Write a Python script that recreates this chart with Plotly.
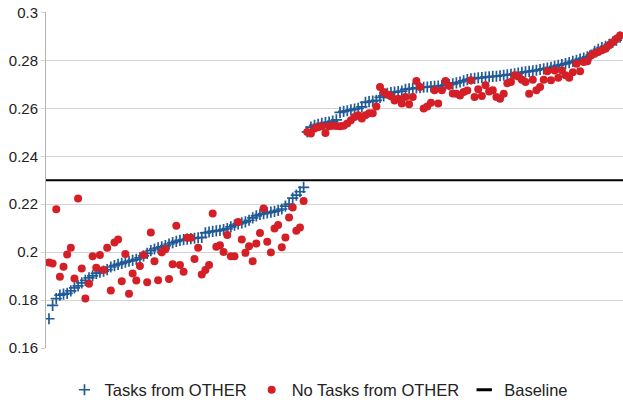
import plotly.graph_objects as go

# Sorted scores with OTHER tasks (first group, then second group)
tasks_other_g1 = [
    0.1722, 0.1778, 0.1806, 0.1821, 0.1825, 0.1828, 0.1838, 0.1851, 0.1859, 0.1872,
    0.1882, 0.1893, 0.1901, 0.1911, 0.1916, 0.1921, 0.1927, 0.1938, 0.1944, 0.1949,
    0.1953, 0.1958, 0.1962, 0.1966, 0.1970, 0.1976, 0.1984, 0.1995, 0.2006, 0.2013,
    0.2018, 0.2022, 0.2027, 0.2034, 0.2040, 0.2045, 0.2049, 0.2052, 0.2054, 0.2056,
    0.2058, 0.2060, 0.2062, 0.2080, 0.2084, 0.2087, 0.2089, 0.2091, 0.2094, 0.2098,
    0.2105, 0.2113, 0.2118, 0.2122, 0.2126, 0.2133, 0.2143, 0.2151, 0.2157, 0.2161,
    0.2164, 0.2167, 0.2170, 0.2174, 0.2180, 0.2192, 0.2200, 0.2225, 0.2238, 0.2252,
    0.2270,
]
tasks_other_g2 = [
    0.2502, 0.2522, 0.2529, 0.2533, 0.2537, 0.2540, 0.2543, 0.2547, 0.2552, 0.2583,
    0.2587, 0.2590, 0.2594, 0.2597, 0.2600, 0.2606, 0.2625, 0.2628, 0.2630, 0.2633,
    0.2646, 0.2652, 0.2663, 0.2666, 0.2668, 0.2670, 0.2672, 0.2679, 0.2681, 0.2683,
    0.2685, 0.2686, 0.2688, 0.2689, 0.2691, 0.2692, 0.2693, 0.2695, 0.2697, 0.2699,
    0.2702, 0.2706, 0.2710, 0.2715, 0.2720, 0.2723, 0.2725, 0.2727, 0.2728, 0.2730,
    0.2731, 0.2733, 0.2734, 0.2736, 0.2738, 0.2740, 0.2742, 0.2744, 0.2747, 0.2750,
    0.2752, 0.2754, 0.2756, 0.2759, 0.2762, 0.2765, 0.2768, 0.2771, 0.2775, 0.2779,
    0.2783, 0.2787, 0.2791, 0.2796, 0.2800, 0.2805, 0.2810, 0.2815, 0.2822, 0.2838,
    0.2846, 0.2853, 0.2859, 0.2867, 0.2876, 0.2885, 0.2897,
]

# Scores without OTHER tasks, same order
no_tasks_other_g1 = [
    0.1957, 0.1953, 0.2179, 0.1897, 0.1939, 0.1990, 0.2018, 0.1890, 0.2224, 0.1932,
    0.1807, 0.1868, 0.1983, 0.1935, 0.1988, 0.1925, 0.2018, 0.1840, 0.2040, 0.2053,
    0.1879, 0.1992, 0.1826, 0.1911, 0.1882, 0.1942, 0.1988, 0.1874, 0.2082, 0.1962,
    0.1883, 0.1999, 0.2012, 0.1888, 0.1949, 0.2110, 0.1946, 0.1918, 0.2060, 0.2060,
    0.1971, 0.2018, 0.1907, 0.1925, 0.1946, 0.2161, 0.2022, 0.2029, 0.2001, 0.2071,
    0.1983, 0.1983, 0.2126, 0.2053, 0.1997, 0.2025, 0.1962, 0.2036, 0.2080, 0.2182,
    0.2043, 0.1999, 0.2099, 0.2113, 0.2020, 0.2061, 0.2145, 0.2186, 0.2089, 0.2103,
    0.2213,
]
no_tasks_other_g2 = [
    0.2501, 0.2495, 0.2516, 0.2521, 0.2525, 0.2497, 0.2525, 0.2527, 0.2526, 0.2525,
    0.2527, 0.2537, 0.2550, 0.2564, 0.2571, 0.2558, 0.2571, 0.2580, 0.2580, 0.2608,
    0.2689, 0.2668, 0.2658, 0.2650, 0.2633, 0.2640, 0.2620, 0.2647, 0.2617, 0.2647,
    0.2714, 0.2689, 0.2599, 0.2608, 0.2623, 0.2675, 0.2620, 0.2675, 0.2714, 0.2694,
    0.2662, 0.2661, 0.2654, 0.2668, 0.2674, 0.2717, 0.2647, 0.2680, 0.2652, 0.2696,
    0.2670, 0.2675, 0.2647, 0.2640, 0.2661, 0.2705, 0.2710, 0.2738, 0.2733, 0.2719,
    0.2710, 0.2661, 0.2719, 0.2675, 0.2689, 0.2719, 0.2755, 0.2717, 0.2758, 0.2728,
    0.2758, 0.2738, 0.2728, 0.2751, 0.2786, 0.2755, 0.2793, 0.2797, 0.2821, 0.2828,
    0.2835, 0.2842, 0.2849, 0.2863, 0.2876, 0.2890, 0.2904,
]

baseline = 0.23

y_tick_values = [0.16, 0.18, 0.20, 0.22, 0.24, 0.26, 0.28, 0.30]
y_tick_labels = ["0.16", "0.18", "0.2", "0.22", "0.24", "0.26", "0.28", "0.3"]

tasks_other = tasks_other_g1 + tasks_other_g2
no_tasks_other = no_tasks_other_g1 + no_tasks_other_g2
x_idx = list(range(len(tasks_other)))

BLUE = "#215a96"
RED = "#d51f27"
FONT = "Liberation Sans, Arial, sans-serif"

fig = go.Figure()
fig.add_trace(go.Scatter(
    x=x_idx, y=tasks_other, mode="markers", name="Tasks from OTHER",
    marker=dict(symbol="cross-thin", size=8, color=BLUE,
                line=dict(color=BLUE, width=1.7)),
))
fig.add_trace(go.Scatter(
    x=x_idx, y=no_tasks_other, mode="markers", name="No Tasks from OTHER",
    marker=dict(symbol="circle", size=8, color=RED, line=dict(width=0)),
))
fig.add_hline(y=baseline, line=dict(color="black", width=2), layer="above")
# legend entry for the baseline
fig.add_trace(go.Scatter(
    x=[None], y=[None], mode="markers", name="Baseline",
    marker=dict(symbol="line-ew", size=11, color="black",
                line=dict(color="black", width=3)),
))

n = len(x_idx)
fig.update_layout(
    width=623, height=404,
    margin=dict(l=46, r=0, t=12, b=56, autoexpand=False),
    paper_bgcolor="white", plot_bgcolor="white",
    font=dict(family=FONT, size=15, color="#222222"),
    showlegend=True,
    legend=dict(
        orientation="h", xref="container", yref="paper",
        x=0.512, xanchor="center", y=-0.125, yanchor="middle",
        font=dict(size=16.5, color="#222222"),
        itemwidth=30, tracegroupgap=0, traceorder="normal",
        bgcolor="rgba(0,0,0,0)",
    ),
    xaxis=dict(
        range=[-0.82, n - 1 + 0.8], showgrid=False, zeroline=False,
        showticklabels=False, ticks="", showline=False,
    ),
    yaxis=dict(
        range=[y_tick_values[0], y_tick_values[-1] + 0.0002],
        tickmode="array", tickvals=y_tick_values, ticktext=y_tick_labels,
        ticklabeloverflow="allow",
        showgrid=True, gridcolor="#d3d3d3", gridwidth=1,
        zeroline=False, showline=True, linecolor="#b3b3b3", linewidth=1,
        ticks="outside", ticklen=4, tickcolor="#d3d3d3",
        tickfont=dict(size=15, color="#222222"),
    ),
)

# remove the default 8px page margin so the figure fills the window
fig.write_html("out.html", config={"displayModeBar": False},
               post_script="document.body.style.margin='0';")
